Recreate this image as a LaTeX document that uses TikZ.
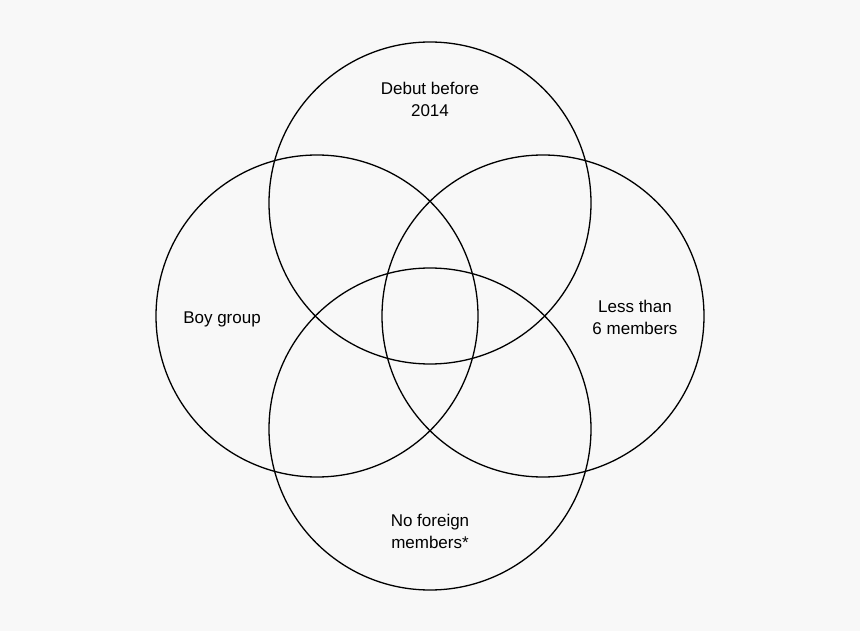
\documentclass[tikz,border=0pt]{standalone}
\usepackage{fontspec}
\setmainfont{Liberation Sans}
\definecolor{bgray}{HTML}{F8F8F8}
\begin{document}
\begin{tikzpicture}[x=1pt,y=-1pt,
  ring/.style={draw,circle,minimum size=322pt,line width=1.3pt,inner sep=0pt},
  lab/.style={align=center,font=\fontsize{17}{22}\selectfont}]
   \path[fill=bgray,use as bounding box] (0,0) rectangle (860,631);

   \node[ring] (c_top) at (430,203) {};
   \node[ring] (c_left) at (317,316) {};
   \node[ring] (c_right) at (543,316) {};
   \node[ring] (c_bot) at (430,429) {};

   \node[lab] (t_top) at (430,99) {Debut before\\2014};
   \node[lab] (t_left) at (222,319) {Boy group};
   \node[lab] (t_right) at (635,317) {Less than\\6 members};
   \node[lab] (t_bot) at (430,531) {No foreign\\members*};
\end{tikzpicture}
\end{document}
